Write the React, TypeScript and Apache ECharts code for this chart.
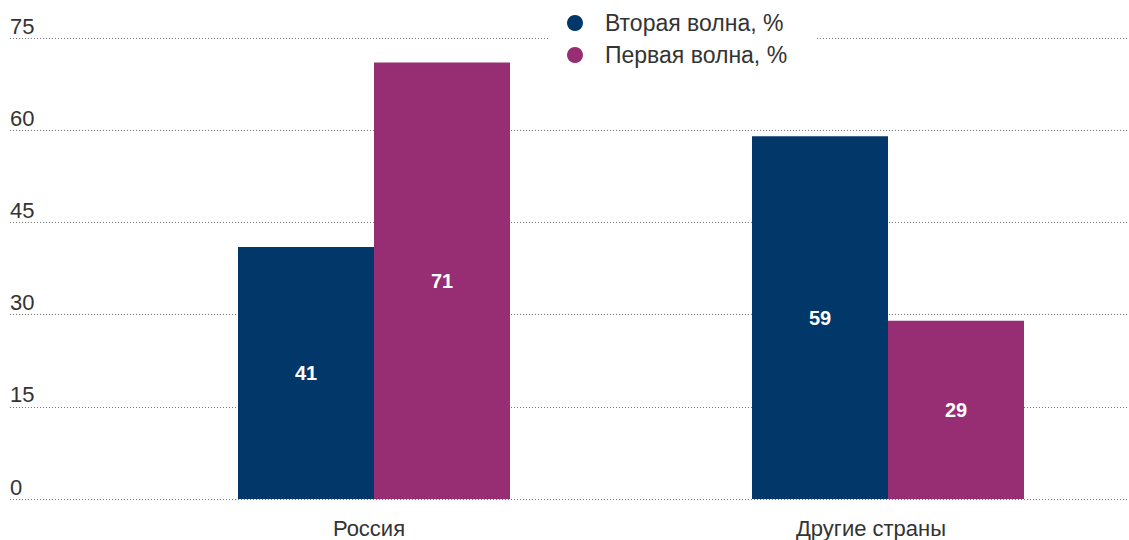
import React, { useEffect, useRef } from "react";
import * as echarts from "echarts";

const categories = ["Россия", "Другие страны"];
const secondWave = [41, 59];
const firstWave = [71, 29];
const seriesNames = ["Вторая волна, %", "Первая волна, %"];
const yMin = 0;
const yMax = 75;
const yStep = 15;

const FONT = "'Liberation Sans', Arial, Helvetica, sans-serif";
const BLUE = "#02376a";
const MAGENTA = "#972e74";

export default function App() {
  const ref = useRef<HTMLDivElement>(null);
  useEffect(() => {
    document.body.style.margin = "0";
    const chart = echarts.init(ref.current!, null, { renderer: "svg" });
    const labelStyle = {
      show: true,
      position: "inside",
      color: "#fff",
      fontWeight: "bold",
      fontSize: 20,
      fontFamily: FONT,
    };
    const catText = { fontSize: 22, color: "#333", fontFamily: FONT };
    chart.setOption({
      animation: false,
      legend: {
        data: seriesNames,
        orient: "vertical",
        left: 548,
        top: 2,
        padding: [9, 30, 9, 19],
        backgroundColor: "#fff",
        icon: "circle",
        itemWidth: 16,
        itemHeight: 16,
        itemGap: 8,
        textStyle: {
          fontSize: 23,
          lineHeight: 24,
          color: "#333",
          fontFamily: FONT,
          padding: [0, 0, 0, 17],
        },
      },
      grid: [
        { left: 10, right: 0, top: 38, bottom: 41 },
        { left: 374, width: 514, top: 38, bottom: 41 },
      ],
      xAxis: [
        { type: "value", gridIndex: 0, show: false, min: 0, max: 1 },
        {
          type: "category",
          gridIndex: 1,
          data: categories,
          boundaryGap: false,
          axisLine: { show: false },
          axisTick: { show: false },
          axisLabel: {
            ...catText,
            margin: 18,
            formatter: (v: string) =>
              v === categories[0] ? `{a|${v}}` : `{b|${v}}`,
            rich: {
              a: { ...catText, padding: [0, 10, 0, 0] },
              b: { ...catText, padding: [0, 34, 0, 0] },
            },
          },
        },
      ],
      yAxis: [
        {
          type: "value",
          gridIndex: 0,
          min: yMin,
          max: yMax,
          interval: yStep,
          axisLine: { show: false },
          axisTick: { show: false },
          axisLabel: {
            inside: true,
            margin: 0,
            verticalAlign: "bottom",
            lineHeight: 22,
            padding: [0, 0, 1, 0],
            fontSize: 22,
            color: "#333",
            fontFamily: FONT,
          },
          splitLine: { show: true, lineStyle: { color: "#777", type: [1, 2], width: 1 } },
        },
        {
          type: "value",
          gridIndex: 1,
          min: yMin,
          max: yMax,
          interval: yStep,
          show: false,
          splitLine: { show: false },
        },
      ],
      series: [
        {
          name: seriesNames[0],
          type: "bar",
          xAxisIndex: 1,
          yAxisIndex: 1,
          data: secondWave,
          barWidth: 136,
          barGap: "0%",
          clip: false,
          itemStyle: { color: BLUE },
          label: labelStyle,
        },
        {
          name: seriesNames[1],
          type: "bar",
          xAxisIndex: 1,
          yAxisIndex: 1,
          data: firstWave,
          barWidth: 136,
          barGap: "0%",
          clip: false,
          itemStyle: { color: MAGENTA },
          label: labelStyle,
        },
      ],
    });
    return () => chart.dispose();
  }, []);
  return <div ref={ref} style={{ width: 1129, height: 540 }} />;
}
